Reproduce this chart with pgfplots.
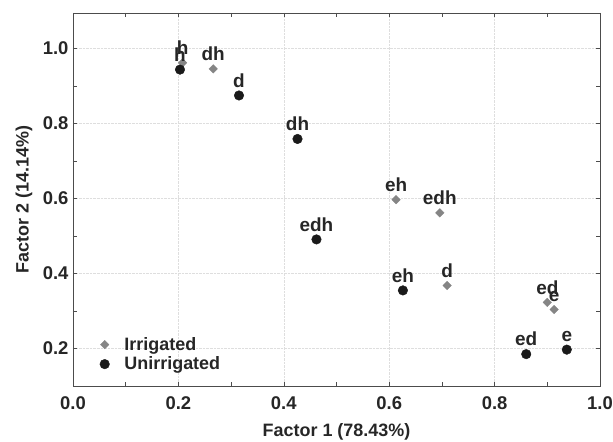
\documentclass[border=0pt]{standalone}
\usepackage{pgfplots}
\pgfplotsset{compat=1.18}
\usepackage{fontspec}
\setmainfont{Liberation Sans}
\definecolor{txt}{HTML}{262626}
\definecolor{irr}{HTML}{858585}
\definecolor{unirr}{HTML}{1A1A1A}

\pgfplotstableread{
x y label
0.208 0.962 h
0.266 0.946 dh
0.613 0.597 eh
0.696 0.562 edh
0.710 0.368 d
0.900 0.323 ed
0.913 0.304 e
}\irrigated

\pgfplotstableread{
x y label
0.203 0.944 h
0.315 0.875 d
0.426 0.759 dh
0.462 0.491 edh
0.626 0.355 eh
0.860 0.185 ed
0.937 0.197 e
}\unirrigated

\begin{document}
\begin{tikzpicture}
\begin{axis}[
  at={(0,0)}, anchor=south west,
  scale only axis, width=527bp, height=373bp,
  xmin=0, xmax=1, ymin=0.1, ymax=1.095,
  xtick={0,0.2,0.4,0.6,0.8,1.0},
  ytick={0.2,0.4,0.6,0.8,1.0},
  minor xtick={0.1,0.3,0.5,0.7,0.9},
  minor ytick={0.3,0.5,0.7,0.9},
  tick align=inside, major tick length=4bp, minor tick length=4bp,
  xmajorgrids, ymajorgrids,
  grid style={densely dotted, black!13, line width=0.5bp},
  axis line style={draw=black!70, line width=0.8bp},
  tick style={black!70, line width=0.6bp},
  /pgf/number format/assume math mode=true,
  /pgf/number format/.cd, fixed, fixed zerofill, precision=1, /pgfplots/.cd,
  ticklabel style={font=\fontsize{18.5}{21}\selectfont\bfseries, text=txt},
  xticklabel style={yshift=-7bp},
  yticklabel style={xshift=-1bp},
  xlabel={Factor 1 (78.43\%)},
  ylabel={Factor 2 (14.14\%)},
  label style={font=\fontsize{18}{21}\selectfont\bfseries, text=txt},
  xlabel style={at={(axis description cs:0.5,-0.123)}, anchor=center},
  ylabel style={at={(axis description cs:-0.093,0.5)}, anchor=center},
  legend style={draw=none, fill=none, font=\fontsize{18}{21}\selectfont\bfseries, text=txt,
    at={(axis description cs:0.045,0.028)}, anchor=south west, row sep=1bp,
    cells={anchor=west},
    /tikz/every odd column/.append style={column sep=13bp}},
  legend image code/.code={\draw[#1] plot coordinates {(0cm,0cm)};},
  every node near coord/.append style={font=\fontsize{19}{22}\selectfont\bfseries, text=txt,
    anchor=south, inner sep=0pt, yshift=8bp},
]
\addplot[only marks, mark=square*, mark size=3bp,
  mark options={rotate=45, fill=irr, draw=irr},
  nodes near coords, point meta=explicit symbolic]
  table[x=x, y=y, meta=label] {\irrigated};
\addlegendentry{Irrigated}
\addplot[only marks, mark=*, mark size=4.8bp,
  mark options={fill=unirr, draw=unirr},
  nodes near coords, point meta=explicit symbolic]
  table[x=x, y=y, meta=label] {\unirrigated};
\addlegendentry{Unirrigated}
\end{axis}
\pgfresetboundingbox
\path[use as bounding box] (-73bp,-56bp) rectangle (540bp,386bp);
\end{tikzpicture}
\end{document}
